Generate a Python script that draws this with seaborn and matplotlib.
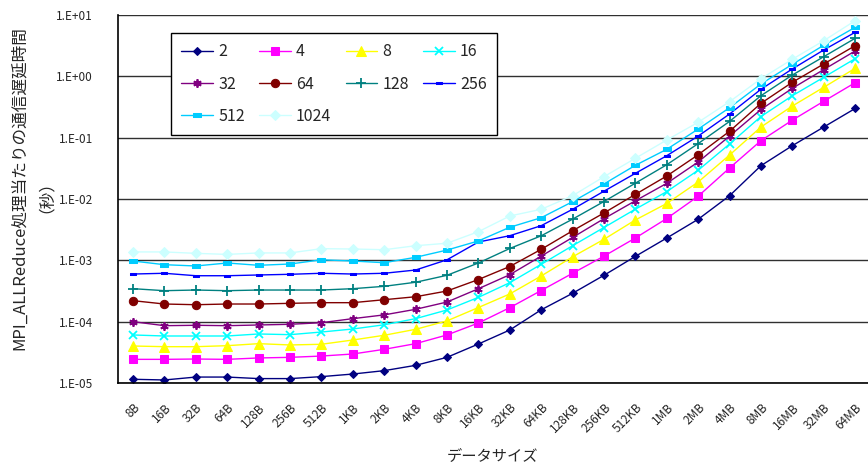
import numpy as np
import pandas as pd
import matplotlib
matplotlib.use("Agg")
import matplotlib.pyplot as plt
import seaborn as sns
from matplotlib.ticker import FixedLocator, FuncFormatter, NullLocator

sizes = ['8B', '16B', '32B', '64B', '128B', '256B', '512B', '1KB', '2KB', '4KB', '8KB',
         '16KB', '32KB', '64KB', '128KB', '256KB', '512KB', '1MB', '2MB', '4MB', '8MB',
         '16MB', '32MB', '64MB']
procs = ['2', '4', '8', '16', '32', '64', '128', '256', '512', '1024']

lat_2 = [1.15e-5, 1.12e-5, 1.25e-5, 1.25e-5, 1.18e-5, 1.18e-5, 1.27e-5, 1.40e-5, 1.59e-5, 1.94e-5,
         2.62e-5, 4.32e-5, 7.31e-5, 1.56e-4, 2.90e-4, 5.70e-4, 1.16e-3, 2.31e-3, 4.67e-3, 1.13e-2,
         3.49e-2, 7.40e-2, 0.149, 0.299]
lat_4 = [2.43e-5, 2.43e-5, 2.46e-5, 2.43e-5, 2.56e-5, 2.62e-5, 2.75e-5, 2.97e-5, 3.54e-5, 4.38e-5,
         6.07e-5, 9.5e-5, 1.69e-4, 3.22e-4, 6.15e-4, 1.17e-3, 2.31e-3, 4.81e-3, 1.11e-2, 3.20e-2,
         8.93e-2, 0.193, 0.392, 0.787]
lat_8 = [4.01e-5, 3.91e-5, 3.91e-5, 4.06e-5, 4.38e-5, 4.17e-5, 4.28e-5, 5.02e-5, 6.0e-5, 7.5e-5,
         1.03e-4, 1.70e-4, 2.83e-4, 5.55e-4, 1.14e-3, 2.20e-3, 4.55e-3, 8.45e-3, 1.89e-2, 5.21e-2,
         0.149, 0.328, 0.662, 1.35]
lat_16 = [6.07e-5, 5.84e-5, 5.84e-5, 5.84e-5, 6.3e-5, 6.14e-5, 6.78e-5, 7.59e-5, 8.9e-5, 1.12e-4,
          1.55e-4, 2.49e-4, 4.32e-4, 8.6e-4, 1.73e-3, 3.43e-3, 6.82e-3, 1.32e-2, 2.94e-2, 7.88e-2,
          0.221, 0.483, 0.964, 1.94]
lat_32 = [1.0e-4, 8.6e-5, 8.73e-5, 8.6e-5, 8.83e-5, 9.06e-5, 9.62e-5, 1.12e-4, 1.29e-4, 1.59e-4,
          2.09e-4, 3.44e-4, 5.83e-4, 1.17e-3, 2.36e-3, 4.78e-3, 9.35e-3, 1.80e-2, 4.01e-2, 0.106,
          0.288, 0.638, 1.29, 2.59]
lat_64 = [2.20e-4, 1.94e-4, 1.89e-4, 1.94e-4, 1.94e-4, 1.99e-4, 2.04e-4, 2.04e-4, 2.28e-4, 2.55e-4,
          3.16e-4, 4.86e-4, 7.93e-4, 1.51e-3, 3.03e-3, 5.92e-3, 1.19e-2, 2.37e-2, 5.26e-2, 0.127,
          0.363, 0.80, 1.59, 3.16]
lat_128 = [3.45e-4, 3.2e-4, 3.28e-4, 3.2e-4, 3.28e-4, 3.28e-4, 3.28e-4, 3.45e-4, 3.77e-4, 4.39e-4,
           5.70e-4, 9.05e-4, 1.56e-3, 2.51e-3, 4.69e-3, 9.1e-3, 1.81e-2, 3.62e-2, 8.0e-2, 0.184,
           0.483, 1.05, 2.09, 4.17]
lat_256 = [5.98e-4, 6.15e-4, 5.61e-4, 5.61e-4, 5.77e-4, 5.92e-4, 6.15e-4, 5.98e-4, 6.15e-4, 6.95e-4,
           1.02e-3, 1.99e-3, 2.52e-3, 3.67e-3, 6.79e-3, 1.34e-2, 2.62e-2, 5.08e-2, 0.106, 0.243,
           0.615, 1.32, 2.69, 5.22]
lat_512 = [9.75e-4, 8.49e-4, 8.09e-4, 9.05e-4, 8.3e-4, 8.71e-4, 1.02e-3, 9.75e-4, 9.15e-4, 1.12e-3,
           1.47e-3, 2.07e-3, 3.46e-3, 4.95e-3, 9.04e-3, 1.76e-2, 3.54e-2, 6.46e-2, 0.138, 0.308,
           0.75, 1.57, 3.21, 6.3]
lat_1024 = [1.37e-3, 1.37e-3, 1.30e-3, 1.25e-3, 1.32e-3, 1.32e-3, 1.55e-3, 1.53e-3, 1.49e-3, 1.73e-3,
            1.90e-3, 2.93e-3, 5.28e-3, 6.79e-3, 1.13e-2, 2.31e-2, 4.61e-2, 9.16e-2, 0.178, 0.386,
            0.915, 1.90, 3.81, 8.07]

series = [lat_2, lat_4, lat_8, lat_16, lat_32, lat_64, lat_128, lat_256, lat_512, lat_1024]

rows = []
for p, vals in zip(procs, series):
    for i, (s, v) in enumerate(zip(sizes, vals)):
        rows.append({"procs": p, "idx": i, "size": s, "lat": v})
df = pd.DataFrame(rows)

sns.set_style("white")
plt.rcParams['font.family'] = ['Noto Sans CJK JP', 'DejaVu Sans']

bar_small = [(-1.6, -0.7), (1.6, -0.7), (1.6, 0.7), (-1.6, 0.7), (-1.6, -0.7)]
bar_big = [(-1.8, -0.8), (1.8, -0.8), (1.8, 0.8), (-1.8, 0.8), (-1.8, -0.8)]

styles = {
    '2':    dict(color='#000080', marker='D', markersize=4.5),
    '4':    dict(color='#FF00FF', marker='s', markersize=5.5),
    '8':    dict(color='#FFFF00', marker='^', markersize=6.5),
    '16':   dict(color='#00FFFF', marker='x', markersize=5.5, markeredgewidth=1.3),
    '32':   dict(color='#800080', marker=(6, 2, 0), markersize=6, markeredgewidth=1.3),
    '64':   dict(color='#800000', marker='o', markersize=6),
    '128':  dict(color='#008080', marker='+', markersize=6.5, markeredgewidth=1.3),
    '256':  dict(color='#0000FF', marker=bar_small, markersize=4.5),
    '512':  dict(color='#00CCFF', marker=bar_big, markersize=5.5),
    '1024': dict(color='#CCFFFF', marker='D', markersize=5),
}

fig = plt.figure(figsize=(8.68, 4.69), dpi=100)
ax = fig.add_axes([118 / 868, 86 / 469, 750 / 868, 368 / 469])

for p in procs:
    st = styles[p]
    sns.lineplot(data=df[df["procs"] == p], x="idx", y="lat", ax=ax, label=p,
                 linewidth=1.0, markeredgecolor=st['color'], errorbar=None, **st)

ax.set_yscale('log')
ax.set_ylim(1e-5, 1e1)
ax.set_xlim(-0.478, 23.41)

ax.yaxis.set_major_locator(FixedLocator([10.0 ** e for e in range(-5, 2)]))
ax.yaxis.set_minor_locator(NullLocator())
ax.yaxis.set_major_formatter(FuncFormatter(lambda v, pos: "1.E%+03d" % int(round(np.log10(v)))))
ax.tick_params(axis='y', length=0, pad=18, labelsize=8.5)
ax.yaxis.grid(True, color='#303030', linewidth=1.0)
ax.set_axisbelow(True)

ax.set_xticks(range(len(sizes)))
ax.set_xticklabels(sizes, rotation=45, ha='right', va='top', rotation_mode='anchor', fontsize=8.5)
ax.xaxis.set_minor_locator(FixedLocator(np.arange(0.5, 23, 1.0)))
ax.tick_params(axis='x', which='major', length=0, pad=13)
ax.tick_params(axis='x', which='minor', length=4, direction='in', color='black', width=1)

for side in ['top', 'right']:
    ax.spines[side].set_visible(False)
for side in ['left', 'bottom']:
    ax.spines[side].set_color('black')
    ax.spines[side].set_linewidth(1.2)

ax.set_xlabel('データサイズ', fontsize=11)
ax.xaxis.set_label_coords(0.5, -0.175)
ax.set_ylabel('MPI_ALLReduce処理当たりの通信遅延時間\n（秒）', fontsize=12, linespacing=1.05,
              ha='center', va='center', multialignment='center')
ax.yaxis.set_label_coords(-0.12, 0.53)

handles, labels = ax.get_legend_handles_labels()
order = [0, 4, 8, 1, 5, 9, 2, 6, 3, 7]
leg = ax.legend([handles[i] for i in order], [labels[i] for i in order], ncol=4,
                loc='upper left', bbox_to_anchor=(0.0707, 0.951), borderaxespad=0,
                fontsize=11.5, handlelength=2.0, handletextpad=0.3, labelspacing=0.95,
                columnspacing=0.9, borderpad=0.65, fancybox=False, framealpha=1,
                edgecolor='black')
leg.get_frame().set_linewidth(1.0)

fig.savefig('out.png', dpi=100)
